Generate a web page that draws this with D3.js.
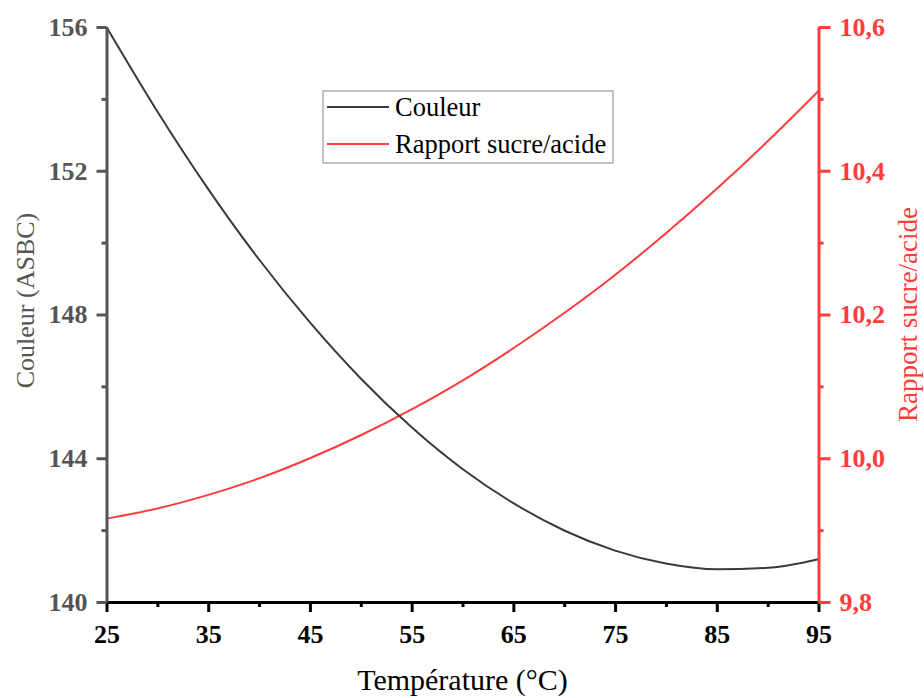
<!DOCTYPE html>
<html>
<head>
<meta charset="utf-8">
<script src="https://cdn.jsdelivr.net/npm/d3@7"></script>
<style>
  html, body { margin: 0; padding: 0; background: #fff; }
  svg { display: block; font-family: "Liberation Serif", "Times New Roman", serif; }
</style>
</head>
<body>
<svg id="chart" width="924" height="698"></svg>
<script>
// Temperature (°C) and the two measured responses
const temperature = [25, 30, 35, 40, 45, 50, 55, 60, 65, 70, 75, 80, 85, 90, 95];
const couleur = [156.0, 153.65, 151.49, 149.53, 147.78, 146.22, 144.86, 143.70, 142.75, 141.99, 141.43, 141.07, 140.91, 140.95, 141.19];
const rapport = [9.916, 9.930, 9.949, 9.972, 10.000, 10.032, 10.068, 10.108, 10.153, 10.202, 10.255, 10.313, 10.375, 10.441, 10.511];

const xTicks = [25, 35, 45, 55, 65, 75, 85, 95];
const xMinor = [30, 40, 50, 60, 70, 80, 90];
const yLeftTicks = [140, 144, 148, 152, 156];
const yLeftMinor = [142, 146, 150, 154];
const yRightTicks = [9.8, 10.0, 10.2, 10.4, 10.6];
const yRightMinor = [9.9, 10.1, 10.3, 10.5];

const seriesNames = ["Couleur", "Rapport sucre/acide"];
const xTitle = "Température (°C)";
const yLeftTitle = "Couleur (ASBC)";
const yRightTitle = "Rapport sucre/acide";

const BLACK = "#3a3a3a";
const GRAY = "#555555";
const RED = "#ff3b3b";

const svg = d3.select("#chart");
const plot = { left: 106.5, right: 818.5, top: 27, bottom: 602 };

const x = d3.scaleLinear().domain([25, 95]).range([plot.left, plot.right]);
const yL = d3.scaleLinear().domain([140, 156]).range([plot.bottom, plot.top]);
const yR = d3.scaleLinear().domain([9.8, 10.6]).range([plot.bottom, plot.top]);

const fmtComma = d => d3.format(".1f")(d).replace(".", ",");

function styleAxis(g, color, size) {
  g.attr("font-family", null).attr("font-size", null);
  g.select(".domain").attr("stroke", color).attr("stroke-width", 3);
  g.selectAll(".tick line").attr("stroke", color).attr("stroke-width", 3);
  g.selectAll(".tick text")
    .attr("fill", color)
    .style("font-family", "'Liberation Serif', serif")
    .style("font-weight", "bold")
    .style("font-size", size + "px");
}

// Minor ticks first so the major axes sit above them
function minor(g, vals, scale, orient, color) {
  g.call(orient(scale).tickValues(vals).tickSize(5).tickFormat(""));
  g.select(".domain").remove();
  g.selectAll("line").attr("stroke", color).attr("stroke-width", 3);
}

minor(svg.append("g").attr("transform", `translate(0,${plot.bottom})`), xMinor, x, d3.axisBottom, "#000");
minor(svg.append("g").attr("transform", `translate(${plot.left},0)`), yLeftMinor, yL, d3.axisLeft, GRAY);
minor(svg.append("g").attr("transform", `translate(${plot.right},0)`), yRightMinor, yR, d3.axisRight, RED);

// Data lines
const lineL = d3.line().x((d, i) => x(temperature[i])).y(d => yL(d)).curve(d3.curveMonotoneX);
const lineR = d3.line().x((d, i) => x(temperature[i])).y(d => yR(d)).curve(d3.curveMonotoneX);

svg.append("path").datum(rapport)
  .attr("d", lineR).attr("fill", "none").attr("stroke", RED).attr("stroke-width", 2);
svg.append("path").datum(couleur)
  .attr("d", lineL).attr("fill", "none").attr("stroke", BLACK).attr("stroke-width", 2);

// Axes
const gx = svg.append("g").attr("transform", `translate(0,${plot.bottom})`)
  .call(d3.axisBottom(x).tickValues(xTicks).tickSize(10).tickSizeOuter(0).tickPadding(13).tickFormat(d3.format("d")));
styleAxis(gx, "#000", 26);

const gyl = svg.append("g").attr("transform", `translate(${plot.left},0)`)
  .call(d3.axisLeft(yL).tickValues(yLeftTicks).tickSize(10).tickSizeOuter(0).tickPadding(9).tickFormat(d3.format("d")));
styleAxis(gyl, GRAY, 26);

const gyr = svg.append("g").attr("transform", `translate(${plot.right},0)`)
  .call(d3.axisRight(yR).tickValues(yRightTicks).tickSize(12).tickSizeOuter(0).tickPadding(9).tickFormat(fmtComma));
styleAxis(gyr, RED, 26);

// Axis titles
svg.append("text")
  .attr("x", (plot.left + plot.right) / 2).attr("y", 690)
  .attr("text-anchor", "middle")
  .style("font-size", "30px").attr("fill", "#000")
  .text(xTitle);

svg.append("text")
  .attr("transform", `translate(34,${(plot.top + plot.bottom) / 2 - 14}) rotate(-90)`)
  .attr("text-anchor", "middle")
  .style("font-size", "26px").attr("fill", GRAY)
  .text(yLeftTitle);

svg.append("text")
  .attr("transform", `translate(917,${(plot.top + plot.bottom) / 2}) rotate(-90)`)
  .attr("text-anchor", "middle")
  .style("font-size", "27px").attr("fill", RED)
  .text(yRightTitle);

// Legend
const legend = svg.append("g").attr("transform", "translate(323,91)");
legend.append("rect")
  .attr("width", 290).attr("height", 72)
  .attr("fill", "#fff").attr("stroke", "#8a8a8a").attr("stroke-width", 1);
const legendColors = [BLACK, RED];
seriesNames.forEach((name, i) => {
  const cy = 16 + i * 37;
  legend.append("line")
    .attr("x1", 4).attr("x2", 66).attr("y1", cy).attr("y2", cy)
    .attr("stroke", legendColors[i]).attr("stroke-width", 2);
  legend.append("text")
    .attr("x", 72).attr("y", cy + 9)
    .style("font-size", "26.5px").attr("fill", "#000")
    .text(name);
});
</script>
</body>
</html>
